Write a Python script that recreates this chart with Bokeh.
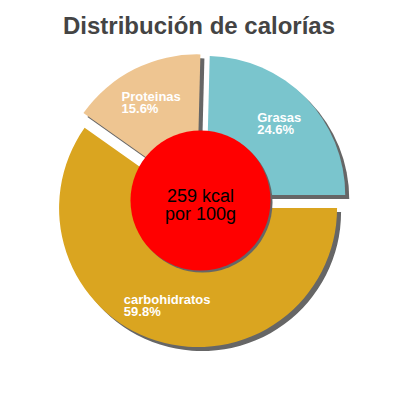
import numpy as np
from bokeh.plotting import figure
from bokeh.models import Range1d
from bokeh.core.properties import value
from bokeh.embed import file_html
from bokeh.resources import INLINE

# ---- data ----
categories = ["carbohidratos", "Proteinas", "Grasas"]
percentages = [59.8, 15.6, 24.6]
slice_colors = ["#DAA520", "#EEC591", "#7AC5CD"]
title_text = "Distribución de calorías"
center_lines = ["259 kcal", "por 100g"]

# ---- layout constants (page pixels, y up) ----
CX, CY = 200.0, 200.0
R = 139.0
EXPLODE = 8.0
SHADOW = 4.0
HOLE_R = 70.0
LABEL_R = 110.0
FONT = value("Liberation Sans")

p = figure(width=384, height=384, output_backend="svg", toolbar_location=None,
           x_range=Range1d(0, 384), y_range=Range1d(16, 400), min_border=0)
p.axis.visible = False
p.grid.visible = False
p.outline_line_color = None
p.background_fill_color = "white"

frac = np.array(percentages) / np.sum(percentages)
cum = np.concatenate([[0.0], np.cumsum(frac)]) * 2 * np.pi
start = -cum[:-1]
end = -cum[1:]
mid = (start + end) / 2
sx = CX + EXPLODE * np.cos(mid)
sy = CY + EXPLODE * np.sin(mid)

# shadows
p.wedge(x=sx + SHADOW, y=sy - SHADOW, radius=R, start_angle=start, end_angle=end,
        direction="clock", fill_color="#666666", line_color=None)
# slices
p.wedge(x=sx, y=sy, radius=R, start_angle=start, end_angle=end,
        direction="clock", fill_color=slice_colors, line_color=None)

# center hole
p.circle(x=[CX + 2], y=[CY - 2], radius=HOLE_R, fill_color="#666666", line_color=None)
p.circle(x=[CX], y=[CY], radius=HOLE_R, fill_color="#FF0000", line_color=None)

# center text
p.text(x=[CX, CX], y=[CY + 4.3, CY - 13.6], text=center_lines,
       text_font=FONT, text_font_size="18px", text_color="black",
       text_align="center", text_baseline="alphabetic")

# slice labels
labels = [f"{c}\n{v:.1f}%" for c, v in zip(categories, percentages)]
lx = CX + LABEL_R * np.cos(mid)
ly = CY + LABEL_R * np.sin(mid)
p.text(x=lx, y=ly, text=labels, anchor="center", text_align="left",
       text_font=FONT, text_font_size="13px", text_font_style="bold",
       text_color="white", text_line_height=0.8)

# title
p.text(x=[198.5], y=[375], text=[title_text], text_font=FONT, text_font_size="24px",
       text_font_style="bold", text_color="#444444", text_align="center",
       text_baseline="alphabetic")

open("out.html", "w").write(file_html(p, INLINE))
